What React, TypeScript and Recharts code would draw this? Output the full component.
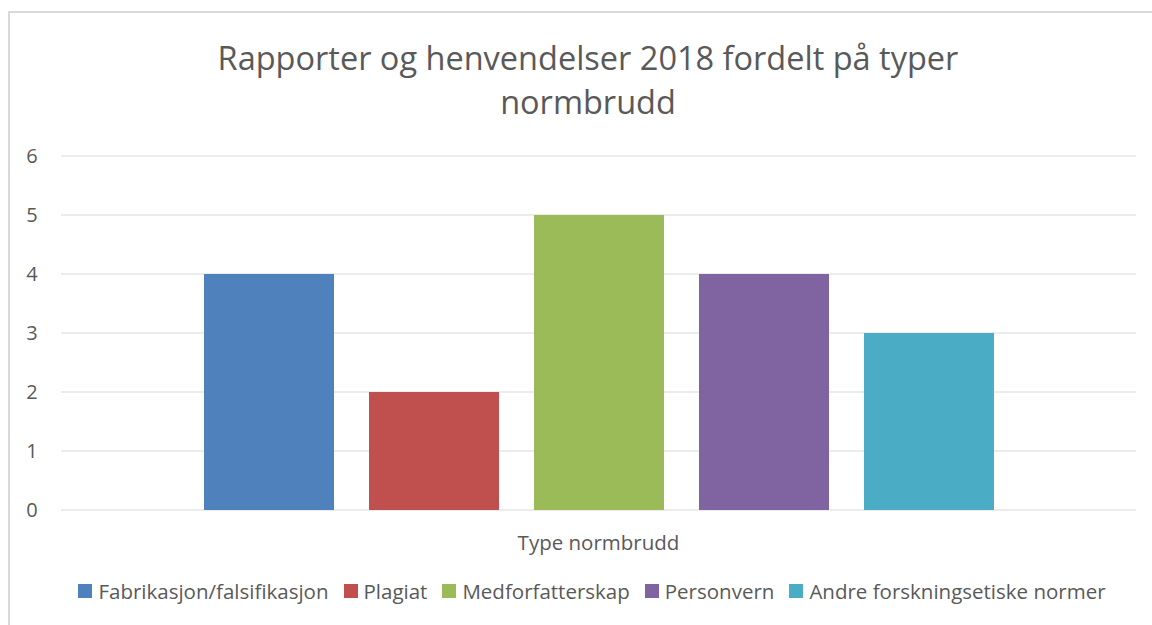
import { BarChart, Bar, XAxis, YAxis, CartesianGrid } from "recharts";

const title = ["Rapporter og henvendelser 2018 fordelt på typer", "normbrudd"];
const category = "Type normbrudd";
const seriesNames = [
  "Fabrikasjon/falsifikasjon",
  "Plagiat",
  "Medforfatterskap",
  "Personvern",
  "Andre forskningsetiske normer",
];
const seriesValues = [4, 2, 5, 4, 3];
const seriesColors = ["#4F81BD", "#C0504D", "#9BBB59", "#8064A2", "#4BACC6"];
const yTicks = [0, 1, 2, 3, 4, 5, 6];

const FONT = "'Open Sans', sans-serif";
const TEXT = "#595959";

const row: Record<string, string | number> = { name: category };
seriesNames.forEach((s, i) => {
  row["s" + i] = seriesValues[i];
});
const data = [row];

function YTick(props: any) {
  const { y, payload } = props;
  return (
    <text x={32} y={y} dy={7} textAnchor="middle" fill={TEXT} fontSize={20} fontFamily={FONT}>
      {payload.value}
    </text>
  );
}

export default function App() {
  return (
    <div style={{ position: "fixed", left: 0, top: 0, width: 1152, height: 625, overflow: "hidden", background: "#fff" }}>
      <style>{`html,body{overflow:hidden}`}</style>
      <div
        style={{
          position: "absolute",
          left: 8,
          top: 11,
          right: 0,
          bottom: 0,
          borderTop: "2px solid #d9d9d9",
          borderLeft: "2px solid #d9d9d9",
        }}
      />
      <div
        style={{
          position: "absolute",
          left: 0,
          top: 36,
          width: 1176,
          textAlign: "center",
          fontFamily: FONT,
          fontSize: 32.5,
          lineHeight: "44px",
          color: TEXT,
        }}
      >
        {title.map((t) => (
          <div key={t}>{t}</div>
        ))}
      </div>
      <div style={{ position: "absolute", left: 0, top: 0 }}>
        <BarChart
          width={1152}
          height={625}
          data={data}
          margin={{ top: 156, right: 16, left: 0, bottom: 85 }}
          barSize={130}
          barGap={35}
        >
          <CartesianGrid vertical={false} stroke="#d9d9d9" strokeWidth={1.2} />
          <XAxis
            dataKey="name"
            height={30}
            axisLine={false}
            tickLine={false}
            tick={{ fill: TEXT, fontSize: 20.5, fontFamily: FONT }}
            dy={17}
          />
          <YAxis
            width={61}
            domain={[0, 6]}
            ticks={yTicks}
            axisLine={false}
            tickLine={false}
            tick={<YTick />}
          />
          {seriesNames.map((s, i) => (
            <Bar key={s} dataKey={"s" + i} name={s} fill={seriesColors[i]} isAnimationActive={false} />
          ))}
        </BarChart>
      </div>
      <div
        style={{
          position: "absolute",
          left: 0,
          top: 577,
          width: 1184,
          display: "flex",
          justifyContent: "center",
          fontFamily: FONT,
          fontSize: 20.5,
          color: TEXT,
        }}
      >
        {seriesNames.map((s, i) => (
          <div key={s} style={{ display: "flex", alignItems: "center", marginRight: i < seriesNames.length - 1 ? 15 : 0 }}>
            <span style={{ display: "inline-block", width: 14, height: 14, background: seriesColors[i], marginRight: 6 }} />
            <span>{s}</span>
          </div>
        ))}
      </div>
    </div>
  );
}
